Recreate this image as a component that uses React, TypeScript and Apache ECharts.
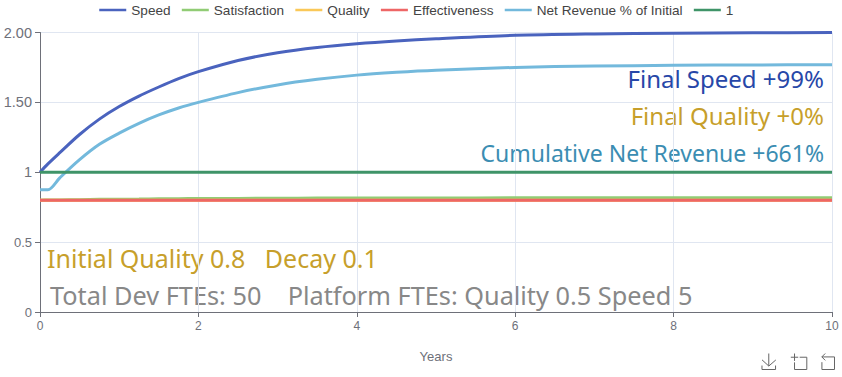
import React, { useEffect, useRef } from "react";
import * as echarts from "echarts";

const years = [0, 0.1, 0.25, 0.5, 0.75, 1, 1.25, 1.5, 1.75, 2, 2.5, 3, 3.5, 4, 4.5, 5, 6, 7, 8, 9, 10];
const speed = [1, 1.06, 1.14, 1.27, 1.38, 1.47, 1.545, 1.61, 1.67, 1.72, 1.8, 1.855, 1.893, 1.92, 1.94, 1.955, 1.98, 1.99, 1.995, 1.998, 2.0];
const satisfaction = [0.8, 0.801, 0.802, 0.804, 0.806, 0.807, 0.808, 0.81, 0.811, 0.812, 0.813, 0.814, 0.815, 0.815, 0.816, 0.816, 0.817, 0.817, 0.818, 0.818, 0.818];
const quality = [0.8, 0.8, 0.8, 0.8, 0.8, 0.8, 0.8, 0.8, 0.8, 0.8, 0.8, 0.8, 0.8, 0.8, 0.8, 0.8, 0.8, 0.8, 0.8, 0.8, 0.8];
const effectiveness = [0.8, 0.8, 0.8, 0.8, 0.8, 0.8, 0.8, 0.8, 0.8, 0.8, 0.8, 0.8, 0.8, 0.8, 0.8, 0.8, 0.8, 0.8, 0.8, 0.8, 0.8];
const netRevenue = [0.875, 0.875, 0.96, 1.09, 1.2, 1.28, 1.35, 1.41, 1.46, 1.5, 1.57, 1.625, 1.665, 1.695, 1.715, 1.73, 1.75, 1.76, 1.765, 1.768, 1.77];
const one = [1, 1, 1, 1, 1, 1, 1, 1, 1, 1, 1, 1, 1, 1, 1, 1, 1, 1, 1, 1, 1];

const seriesNames = ["Speed", "Satisfaction", "Quality", "Effectiveness", "Net Revenue % of Initial", "1"];
const seriesColors = ["#4A63BE", "#91CC75", "#FAC858", "#EE6666", "#73B9DC", "#3F9468"];
const seriesValues = [speed, satisfaction, quality, effectiveness, netRevenue, one];
const yLabels: Record<string, string> = { "0": "{s|0}", "0.5": "{s|0.5}", "1": "{b|1}", "1.5": "{b|1.50}", "2": "{b|2.00}" };

const FONT = "'Noto Sans', sans-serif";
const GREY = "#6E7079";

export default function App() {
  const ref = useRef<HTMLDivElement>(null);
  useEffect(() => {
    document.body.style.margin = "0";
    const chart = echarts.init(ref.current!, null, { renderer: "svg" });
    chart.setOption({
      animation: false,
      color: seriesColors,
      textStyle: { fontFamily: "'Liberation Sans', Arial, sans-serif" },
      legend: {
        top: -2,
        left: 93,
        itemGap: 10,
        itemWidth: 27,
        itemStyle: { opacity: 0 },
        lineStyle: { width: 2.5 },
        textStyle: { fontSize: 13.6, color: "#444" },
      },
      toolbox: {
        right: -10,
        bottom: -10,
        itemSize: 16,
        itemGap: 10,
        iconStyle: { borderColor: "#666666", color: "none" },
        feature: { saveAsImage: { title: "" }, dataZoom: { title: { zoom: "", back: "" } } },
      },
      grid: { left: 40, right: 10, top: 32.5, bottom: 65, containLabel: false },
      xAxis: {
        type: "value",
        min: 0,
        max: 10,
        interval: 2,
        name: "Years",
        nameLocation: "middle",
        nameGap: 38,
        nameTextStyle: { fontSize: 13, color: GREY },
        axisLine: { show: true, lineStyle: { color: GREY } },
        axisTick: { show: true },
        axisLabel: { fontSize: 12, color: GREY },
        splitLine: { show: true, lineStyle: { color: "#E0E6F1" } },
      },
      yAxis: {
        type: "value",
        min: 0,
        max: 2,
        interval: 0.5,
        axisLine: { show: true, lineStyle: { color: GREY } },
        axisTick: { show: true },
        axisLabel: {
          color: GREY,
          formatter: (v: number) => yLabels[String(v)],
          rich: { s: { fontSize: 13, color: GREY }, b: { fontSize: 14.5, color: GREY } },
        },
        splitLine: { show: true, lineStyle: { color: "#E0E6F1" } },
      },
      series: seriesNames.map((name, i) => ({
        name,
        type: "line",
        symbol: "none",
        smooth: 0.3,
        lineStyle: { width: 3 },
        data: years.map((t, j) => [t, seriesValues[i][j]]),
      })),
      graphic: [
        { type: "text", right: 18, top: 66, style: { text: "Final Speed +99%", fontSize: 24, fontFamily: FONT, fill: "#2747A8" } },
        { type: "text", right: 18, top: 103, style: { text: "Final Quality +0%", fontSize: 24, fontFamily: FONT, fill: "#C79F2B" } },
        { type: "text", right: 18, top: 141, style: { text: "Cumulative Net Revenue +661%", fontSize: 23, fontFamily: FONT, fill: "#3B8DB2" } },
        { type: "text", left: 47, top: 245, style: { text: "Initial Quality 0.8   Decay 0.1", fontSize: 25, fontFamily: FONT, fill: "#C79F2B" } },
        { type: "text", left: 50, top: 282, style: { text: "Total Dev FTEs: 50    Platform FTEs: Quality 0.5 Speed 5", fontSize: 25.3, fontFamily: FONT, fill: "#888888" } },
      ],
    });
    return () => chart.dispose();
  }, []);
  return <div ref={ref} style={{ width: 842, height: 377 }} />;
}
